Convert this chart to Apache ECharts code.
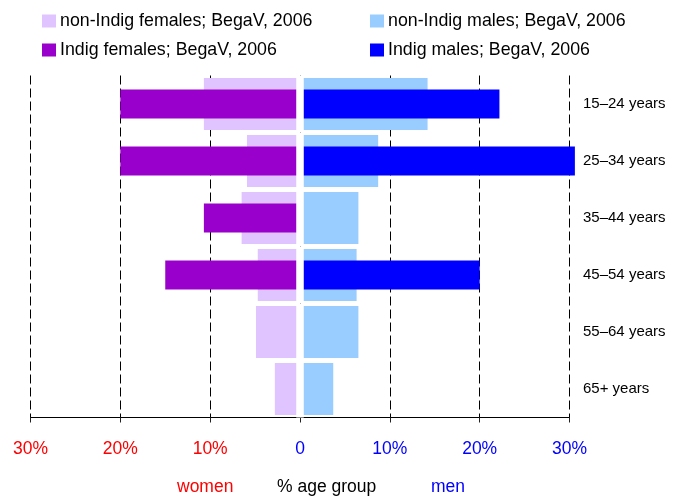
<!DOCTYPE html>
<html>
<head>
<meta charset="utf-8">
<script src="https://cdn.jsdelivr.net/npm/echarts@6/dist/echarts.min.js"></script>
<style>
html,body{margin:0;padding:0;background:#fff;}
#c{width:677px;height:500px;}
</style>
</head>
<body>
<div id="c"></div>
<script>
// ---- data ----
const ageGroups = ['15–24 years', '25–34 years', '35–44 years', '45–54 years', '55–64 years', '65+ years'];
const nonIndigFemales = [10.7, 5.9, 6.5, 4.7, 4.9, 2.8];
const indigFemales    = [20.0, 20.0, 10.7, 15.0, 0, 0];
const nonIndigMales   = [14.2, 8.7, 6.5, 6.3, 6.5, 3.7];
const indigMales      = [22.2, 30.6, 0, 20.0, 0, 0];
const xTicks = [-30, -20, -10, 0, 10, 20, 30];

const names = {
  nf: 'non-Indig females; BegaV, 2006',
  nm: 'non-Indig males; BegaV, 2006',
  inf: 'Indig females; BegaV, 2006',
  im: 'Indig males; BegaV, 2006'
};
const FONT = 'Liberation Sans, Arial, Helvetica, sans-serif';
const GAP = 0.42;

const chart = echarts.init(document.getElementById('c'), null, {renderer: 'canvas'});
const hiddenCat = (i) => ({
  type: 'category', gridIndex: 0, data: ageGroups, inverse: true, show: false
});
const legendBase = {
  orient: 'vertical', itemGap: 11, padding: 0, top: 12,
  itemWidth: 14, itemHeight: 13, icon: 'rect', selectedMode: false,
  textStyle: {fontFamily: FONT, fontSize: 17.8, color: '#000', padding: [0,0,0,-1]}
};
chart.setOption({
  animation: false,
  backgroundColor: '#fff',
  grid: {left: 30.5, right: 107.5, top: 75.5, bottom: 82.5},
  legend: [
    Object.assign({}, legendBase, {data: [names.nf, names.inf], left: 42}),
    Object.assign({}, legendBase, {data: [names.nm, names.im], left: 370})
  ],
  xAxis: {
    type: 'value', min: xTicks[0], max: xTicks[xTicks.length - 1], interval: 10,
    axisLine: {show: true, lineStyle: {color: '#000', width: 1}},
    axisTick: {show: true, length: 5, lineStyle: {color: '#222'}},
    splitLine: {show: true, lineStyle: {color: '#000', width: 1, type: [9, 4]}},
    axisLabel: {
      margin: 23, fontFamily: FONT, fontSize: 17.5,
      formatter: v => v === 0 ? '0' : Math.abs(v) + '%',
      color: v => (Number(v) < 0 ? '#ff0000' : '#0000ff')
    }
  },
  yAxis: [
    {type: 'category', data: ageGroups, inverse: true, position: 'right',
     axisLine: {show: false}, axisTick: {show: false}, splitLine: {show: false},
     axisLabel: {margin: 13.5, fontFamily: FONT, fontSize: 15, color: '#000'}},
    hiddenCat(1),
    hiddenCat(2)
  ],
  series: [
    {name: names.nf, type: 'bar', yAxisIndex: 0, barWidth: '91%', barGap: '-100%',
     data: nonIndigFemales.map(v => -v), itemStyle: {color: '#e0c4ff'}, clip: false},
    {name: names.nm, type: 'bar', yAxisIndex: 0, barWidth: '91%', barGap: '-100%',
     data: nonIndigMales, itemStyle: {color: '#99ccff'}, clip: false},
    {name: names.inf, type: 'bar', yAxisIndex: 1, barWidth: '51%', barGap: '-100%',
     data: indigFemales.map(v => -v), itemStyle: {color: '#9900cc'}, clip: false, z: 3},
    {name: names.im, type: 'bar', yAxisIndex: 1, barWidth: '51%', barGap: '-100%',
     data: indigMales, itemStyle: {color: '#0000ff'}, clip: false, z: 3},
    {name: 'gapL', type: 'bar', yAxisIndex: 2, barWidth: '100%', barGap: '-100%',
     data: ageGroups.map(() => -GAP), itemStyle: {color: '#fff'}, z: 5, silent: true},
    {name: 'gapR', type: 'bar', yAxisIndex: 2, barWidth: '100%', barGap: '-100%',
     data: ageGroups.map(() => GAP), itemStyle: {color: '#fff'}, z: 5, silent: true}
  ],
  graphic: [
    {type: 'text', left: 177, top: 478, style: {text: 'women', font: '17.5px ' + FONT, fill: '#ff0000'}},
    {type: 'text', left: 277, top: 478, style: {text: '% age group', font: '17.5px ' + FONT, fill: '#000'}},
    {type: 'text', left: 431, top: 478, style: {text: 'men', font: '17.5px ' + FONT, fill: '#0000ff'}}
  ]
});
</script>
</body>
</html>
